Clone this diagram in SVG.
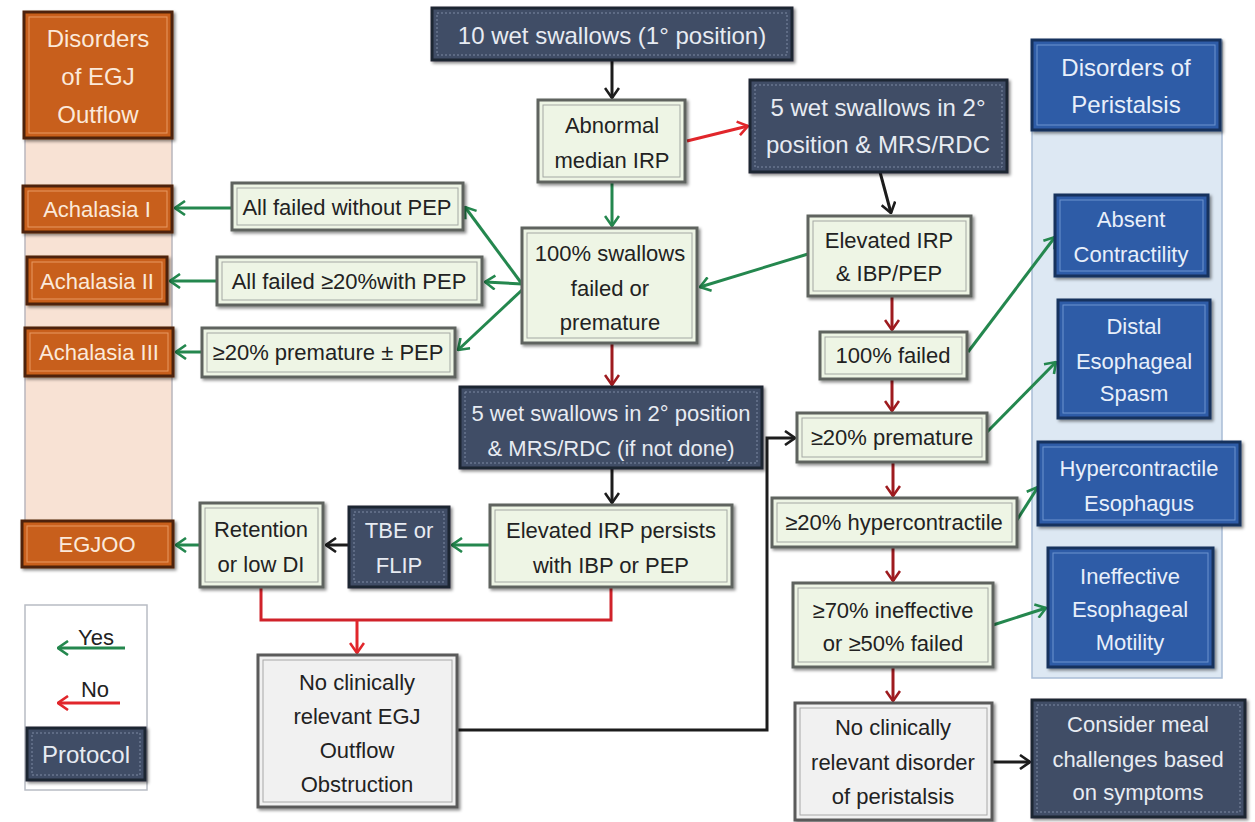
<svg xmlns="http://www.w3.org/2000/svg" width="1255" height="822" viewBox="0 0 1255 822">
<defs>
<style>
text{font-family:"Liberation Sans",Arial,sans-serif;font-size:22px;text-anchor:middle}
.big{font-size:24px}
.g .o{fill:#eef5e5;stroke:#5f635f;stroke-width:3}
.g .i{fill:none;stroke:#a3a8a3;stroke-width:1}
.g text{fill:#222}
.w .o{fill:#f1f1f1;stroke:#5a5a5a;stroke-width:3}
.w .i{fill:none;stroke:#a8a8a8;stroke-width:1}
.w text{fill:#222}
.p .o{fill:#3f4d66;stroke:#1f2633;stroke-width:3}
.p .i{fill:none;stroke:#7c8aa3;stroke-width:1;stroke-dasharray:2 2}
.p text{fill:#e7ebf2}
.or .o{fill:#c85e1a;stroke:#4e2408;stroke-width:3}
.or .i{fill:none;stroke:#e89a62;stroke-width:1}
.or text{fill:#fbe9da}
.b .o{fill:#2e5ba7;stroke:#17305d;stroke-width:3}
.b .i{fill:none;stroke:#6d93cf;stroke-width:1}
.b text{fill:#e8effa}
.o{filter:url(#sh)}
.c{fill:none;stroke-width:3}
.cg{stroke:#24874e;marker-end:url(#mg)}
.cr{stroke:#9e1b1f;marker-end:url(#mr)}
.cb{stroke:#1c1c1c;marker-end:url(#mb)}
.cR{stroke:#e1262b;marker-end:url(#mR)}
</style>
<filter id="sh" x="-10%" y="-10%" width="130%" height="130%">
<feDropShadow dx="2" dy="2" stdDeviation="1.5" flood-color="#000" flood-opacity="0.45"/>
</filter>
<marker id="mg" viewBox="0 0 12 16" markerWidth="12" markerHeight="16" refX="11" refY="8" orient="auto" markerUnits="userSpaceOnUse"><path d="M1,1 L11,8 L1,15" fill="none" stroke="#24874e" stroke-width="2.6"/></marker>
<marker id="mr" viewBox="0 0 12 16" markerWidth="12" markerHeight="16" refX="11" refY="8" orient="auto" markerUnits="userSpaceOnUse"><path d="M1,1 L11,8 L1,15" fill="none" stroke="#9e1b1f" stroke-width="2.6"/></marker>
<marker id="mb" viewBox="0 0 12 16" markerWidth="12" markerHeight="16" refX="11" refY="8" orient="auto" markerUnits="userSpaceOnUse"><path d="M1,1 L11,8 L1,15" fill="none" stroke="#1c1c1c" stroke-width="2.6"/></marker>
<marker id="mR" viewBox="0 0 12 16" markerWidth="12" markerHeight="16" refX="11" refY="8" orient="auto" markerUnits="userSpaceOnUse"><path d="M1,1 L11,8 L1,15" fill="none" stroke="#e1262b" stroke-width="2.6"/></marker>
</defs>
<rect width="1255" height="822" fill="#ffffff"/>

<!-- panels -->
<rect id="egj-column" x="25" y="12" width="147" height="510" fill="#f8e2d4" stroke="#b9b6bd" stroke-width="1.5"/>
<rect id="peri-column" x="1032" y="40" width="190" height="638" fill="#dde8f3" stroke="#a9bdd6" stroke-width="1.5"/>

<!-- connectors -->
<g id="connectors">
<path class="c cb" d="M612,60 L612,98"/>
<path class="c cR" d="M687,141 L748,126"/>
<path class="c cg" d="M612,182 L612,226"/>
<path class="c cg" d="M522,284 L465,207"/>
<path class="c cg" d="M522,284 L485,282"/>
<path class="c cg" d="M522,290 L458,350"/>
<path class="c cg" d="M232,208 L175,208"/>
<path class="c cg" d="M217,281 L170,281"/>
<path class="c cg" d="M202,352 L176,352"/>
<path class="c cg" d="M808,254 L700,287"/>
<path class="c cr" d="M612,343 L612,385"/>
<path class="c cb" d="M612,468 L612,503"/>
<path class="c cg" d="M490,545 L452,545"/>
<path class="c cb" d="M349,545 L326,545"/>
<path class="c cg" d="M200,545 L176,545"/>
<path class="c" stroke="#d0222a" d="M261,587 L261,620 L611,620 L611,587"/>
<path class="c cR" stroke="#d0222a" d="M357,620 L357,653"/>
<path class="c cb" d="M457,730 L767,730 L767,438 L795,438"/>
<path class="c cb" d="M880,172 L891,213"/>
<path class="c cr" d="M892,296 L892,330"/>
<path class="c cg" d="M968,352 L1055,237"/>
<path class="c cr" d="M892,380 L892,411"/>
<path class="c cg" d="M987,432 L1056,362"/>
<path class="c cr" d="M893,462 L893,496"/>
<path class="c cg" d="M1017,520 L1038,487"/>
<path class="c cr" d="M893,547 L893,581"/>
<path class="c cg" d="M993,625 L1046,608"/>
<path class="c cr" d="M893,667 L893,701"/>
<path class="c cb" d="M992,762 L1030,762"/>
</g>

<!-- left: disorders of EGJ outflow -->
<g id="egj-header" class="or"><rect class="o" x="24" y="12" width="148" height="126"/><rect class="i" x="29" y="17" width="138" height="116"/>
<text class="big" x="98" y="47">Disorders</text><text class="big" x="98" y="85">of EGJ</text><text class="big" x="98" y="123">Outflow</text></g>
<g id="achalasia1" class="or"><rect class="o" x="23" y="186" width="149" height="46"/><rect class="i" x="28" y="191" width="139" height="36"/><text x="97" y="217">Achalasia I</text></g>
<g id="achalasia2" class="or"><rect class="o" x="27" y="257" width="140" height="47"/><rect class="i" x="32" y="262" width="130" height="37"/><text x="97" y="289">Achalasia II</text></g>
<g id="achalasia3" class="or"><rect class="o" x="25" y="328" width="148" height="48"/><rect class="i" x="30" y="333" width="138" height="38"/><text x="99" y="360">Achalasia III</text></g>
<g id="egjoo" class="or"><rect class="o" x="22" y="521" width="151" height="46"/><rect class="i" x="27" y="526" width="141" height="36"/><text x="97" y="552">EGJOO</text></g>

<!-- legend -->
<g id="legend">
<rect x="25" y="605" width="122" height="185" fill="#ffffff" stroke="#b8bcc4" stroke-width="1.5"/>
<text x="96" y="645" fill="#222">Yes</text>
<path class="c cg" d="M125,648 L58,648"/>
<text x="95" y="697" fill="#222">No</text>
<path class="c cR" d="M120,703 L58,703"/>
<g id="legend-protocol" class="p"><rect class="o" x="27" y="728" width="118" height="52"/><rect class="i" x="32" y="733" width="108" height="42"/><text class="big" x="86" y="763">Protocol</text></g>
</g>

<!-- center -->
<g id="wet10" class="p"><rect class="o" x="432" y="8" width="360" height="52"/><rect class="i" x="437" y="13" width="350" height="42"/><text class="big" x="612" y="44">10 wet swallows (1° position)</text></g>
<g id="abnormal-irp" class="g"><rect class="o" x="538" y="100" width="147" height="82"/><rect class="i" x="543" y="105" width="137" height="72"/><text x="612" y="133">Abnormal</text><text x="612" y="168">median IRP</text></g>
<g id="wet5-a" class="p"><rect class="o" x="750" y="80" width="257" height="92"/><rect class="i" x="755" y="85" width="247" height="82"/><text class="big" x="878" y="116">5 wet swallows in 2°</text><text class="big" x="878" y="153">position &amp; MRS/RDC</text></g>
<g id="swallows100" class="g"><rect class="o" x="522" y="228" width="175" height="115"/><rect class="i" x="527" y="233" width="165" height="105"/><text x="610" y="261">100% swallows</text><text x="610" y="296">failed or</text><text x="610" y="330">premature</text></g>
<g id="allfailed" class="g"><rect class="o" x="232" y="183" width="231" height="47"/><rect class="i" x="237" y="188" width="221" height="37"/><text x="347" y="215">All failed without PEP</text></g>
<g id="allfailed20" class="g"><rect class="o" x="217" y="257" width="265" height="48"/><rect class="i" x="222" y="262" width="255" height="38"/><text x="349" y="289">All failed ≥20%with PEP</text></g>
<g id="premature20" class="g"><rect class="o" x="202" y="328" width="253" height="49"/><rect class="i" x="207" y="333" width="243" height="39"/><text x="328" y="360">≥20% premature ± PEP</text></g>
<g id="wet5-b" class="p"><rect class="o" x="460" y="387" width="302" height="81"/><rect class="i" x="465" y="392" width="292" height="71"/><text x="611" y="421">5 wet swallows in 2° position</text><text x="611" y="456">&amp; MRS/RDC (if not done)</text></g>
<g id="irp-persists" class="g"><rect class="o" x="490" y="505" width="242" height="82"/><rect class="i" x="495" y="510" width="232" height="72"/><text x="611" y="538">Elevated IRP persists</text><text x="611" y="573">with IBP or PEP</text></g>
<g id="tbe-flip" class="p"><rect class="o" x="349" y="507" width="100" height="80"/><rect class="i" x="354" y="512" width="90" height="70"/><text x="399" y="538">TBE or</text><text x="399" y="573">FLIP</text></g>
<g id="retention" class="g"><rect class="o" x="200" y="503" width="123" height="84"/><rect class="i" x="205" y="508" width="113" height="74"/><text x="261" y="537">Retention</text><text x="261" y="572">or low DI</text></g>
<g id="no-egj" class="w"><rect class="o" x="258" y="655" width="199" height="152"/><rect class="i" x="263" y="660" width="189" height="142"/><text x="357" y="690">No clinically</text><text x="357" y="724">relevant EGJ</text><text x="357" y="758">Outflow</text><text x="357" y="792">Obstruction</text></g>

<!-- right -->
<g id="irp-ibp" class="g"><rect class="o" x="808" y="216" width="163" height="80"/><rect class="i" x="813" y="221" width="153" height="70"/><text x="889" y="248">Elevated IRP</text><text x="889" y="281">&amp; IBP/PEP</text></g>
<g id="failed100" class="g"><rect class="o" x="820" y="332" width="147" height="47"/><rect class="i" x="825" y="337" width="137" height="37"/><text x="893" y="363">100% failed</text></g>
<g id="premature" class="g"><rect class="o" x="797" y="413" width="190" height="49"/><rect class="i" x="802" y="418" width="180" height="39"/><text x="892" y="445">≥20% premature</text></g>
<g id="hypercontractile" class="g"><rect class="o" x="772" y="498" width="245" height="49"/><rect class="i" x="777" y="503" width="235" height="39"/><text x="894" y="530">≥20% hypercontractile</text></g>
<g id="ineffective" class="g"><rect class="o" x="793" y="583" width="200" height="84"/><rect class="i" x="798" y="588" width="190" height="74"/><text x="893" y="618">≥70% ineffective</text><text x="893" y="651">or ≥50% failed</text></g>
<g id="no-peri" class="w"><rect class="o" x="795" y="703" width="197" height="117"/><rect class="i" x="800" y="708" width="187" height="107"/><text x="893" y="735">No clinically</text><text x="893" y="770">relevant disorder</text><text x="893" y="804">of peristalsis</text></g>
<g id="meal" class="p"><rect class="o" x="1032" y="700" width="213" height="117"/><rect class="i" x="1037" y="705" width="203" height="107"/><text x="1138" y="732">Consider meal</text><text x="1138" y="767">challenges based</text><text x="1138" y="800">on symptoms</text></g>

<g id="peri-header" class="b"><rect class="o" x="1032" y="40" width="188" height="90"/><rect class="i" x="1037" y="45" width="178" height="80"/><text class="big" x="1126" y="76">Disorders of</text><text class="big" x="1126" y="113">Peristalsis</text></g>
<g id="absent" class="b"><rect class="o" x="1055" y="195" width="153" height="81"/><rect class="i" x="1060" y="200" width="143" height="71"/><text x="1131" y="227">Absent</text><text x="1131" y="262">Contractility</text></g>
<g id="des" class="b"><rect class="o" x="1058" y="300" width="152" height="118"/><rect class="i" x="1063" y="305" width="142" height="108"/><text x="1134" y="334">Distal</text><text x="1134" y="369">Esophageal</text><text x="1134" y="401">Spasm</text></g>
<g id="hyper-eso" class="b"><rect class="o" x="1038" y="442" width="202" height="83"/><rect class="i" x="1043" y="447" width="192" height="73"/><text x="1139" y="476">Hypercontractile</text><text x="1139" y="511">Esophagus</text></g>
<g id="iem" class="b"><rect class="o" x="1048" y="548" width="165" height="119"/><rect class="i" x="1053" y="553" width="155" height="109"/><text x="1130" y="584">Ineffective</text><text x="1130" y="617">Esophageal</text><text x="1130" y="650">Motility</text></g>
</svg>
